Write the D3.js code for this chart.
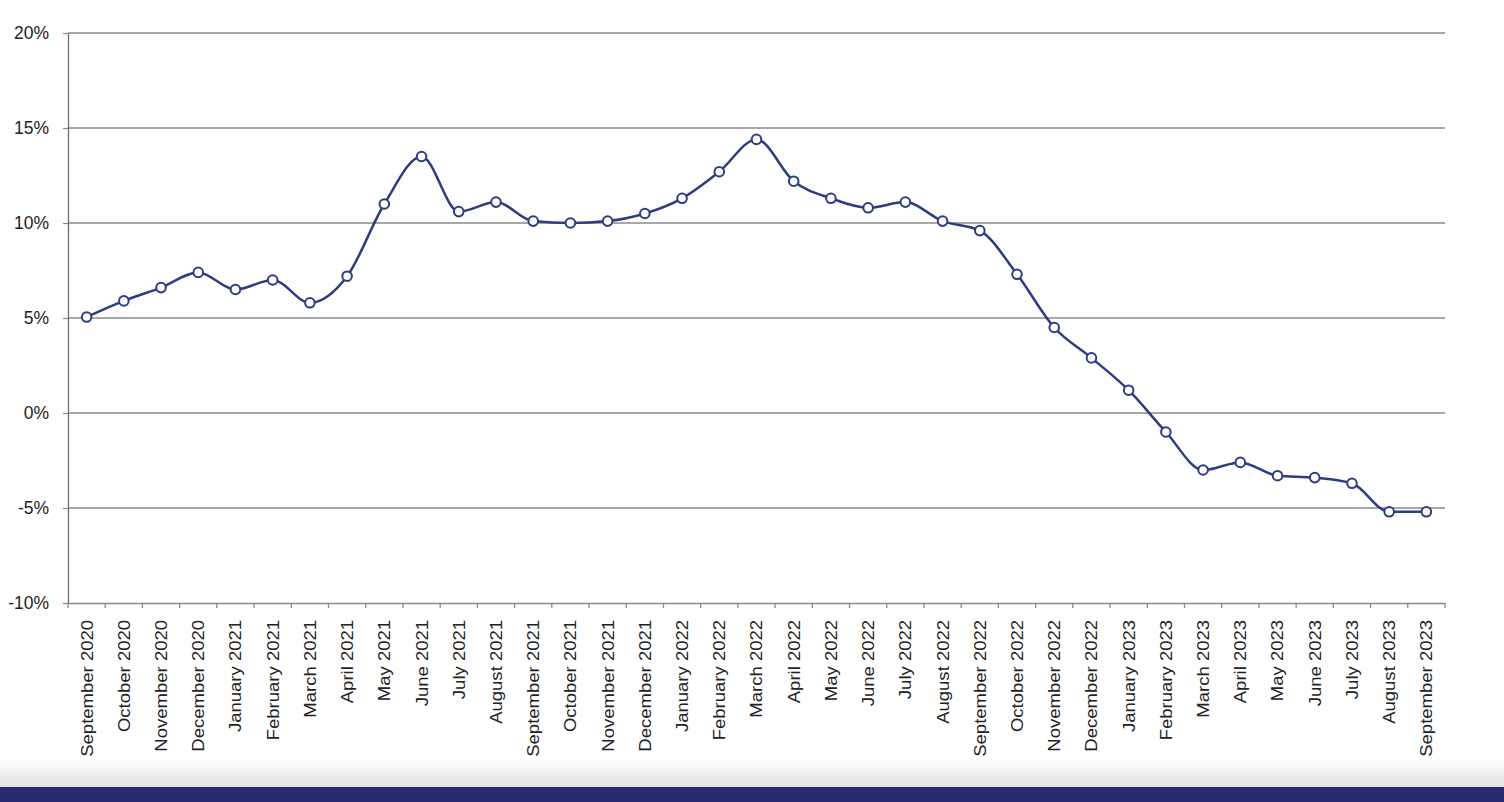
<!DOCTYPE html>
<html><head><meta charset="utf-8">
<script src="https://cdn.jsdelivr.net/npm/d3@7"></script>
<style>
html,body{margin:0;padding:0;background:#fff;}
svg{display:block;}
</style></head>
<body>
<svg id="chart" width="1504" height="802"></svg>
<script>
const months = ["September 2020","October 2020","November 2020","December 2020","January 2021","February 2021","March 2021","April 2021","May 2021","June 2021","July 2021","August 2021","September 2021","October 2021","November 2021","December 2021","January 2022","February 2022","March 2022","April 2022","May 2022","June 2022","July 2022","August 2022","September 2022","October 2022","November 2022","December 2022","January 2023","February 2023","March 2023","April 2023","May 2023","June 2023","July 2023","August 2023","September 2023"];
const values = [5.05,5.9,6.6,7.4,6.5,7.0,5.8,7.2,11.0,13.5,10.6,11.1,10.1,10.0,10.1,10.5,11.3,12.7,14.4,12.2,11.3,10.8,11.1,10.1,9.6,7.3,4.5,2.9,1.2,-1.0,-3.0,-2.6,-3.3,-3.4,-3.7,-5.2,-5.2];
const yTicks = [-10,-5,0,5,10,15,20];

(function(){
const svg = d3.select("#chart");
const W = 1504, H = 802;
const mLeft = 68, mRight = 1445, mTop = 33, mBottom = 603;

const defs = svg.append("defs");
const grad = defs.append("linearGradient").attr("id","fade").attr("x1",0).attr("y1",0).attr("x2",0).attr("y2",1);
grad.append("stop").attr("offset","0%").attr("stop-color","#ffffff");
grad.append("stop").attr("offset","100%").attr("stop-color","#e2e2e0");
svg.append("rect").attr("x",0).attr("y",758).attr("width",W).attr("height",29).attr("fill","url(#fade)");
svg.append("rect").attr("x",0).attr("y",787).attr("width",W).attr("height",15).attr("fill","#292a6f");

const x = d3.scaleBand().domain(months).range([mLeft,mRight]).padding(0);
const y = d3.scaleLinear().domain([-10,20]).range([mBottom,mTop]);

svg.append("g").selectAll("line").data(yTicks.filter(d=>d>-10)).join("line")
  .attr("x1",mLeft).attr("x2",mRight).attr("y1",d=>y(d)).attr("y2",d=>y(d))
  .attr("stroke","#8a8a8a").attr("stroke-width",1.3);

const yAxis = svg.append("g").attr("transform",`translate(${mLeft},0)`)
  .call(d3.axisLeft(y).tickValues(yTicks).tickFormat(d=>d+"%").tickSize(5).tickSizeOuter(0));
yAxis.select(".domain").attr("stroke","#6e6e6e").attr("stroke-width",1.3);
yAxis.selectAll(".tick line").attr("stroke","#8a8a8a").attr("stroke-width",1.3);
yAxis.selectAll("text").attr("font-family","Liberation Sans, Arial, sans-serif").attr("font-size",17.5).attr("fill","#222").attr("x",-19).attr("dy","0.3em");

const xAxis = svg.append("g").attr("transform",`translate(0,${mBottom})`)
  .call(d3.axisBottom(x).tickSize(0).tickSizeOuter(0));
xAxis.select(".domain").attr("stroke","#8a8a8a").attr("stroke-width",1.3);
const bounds = months.map(m=>x(m)).concat([mRight]);
svg.append("g").selectAll("line").data(bounds).join("line")
  .attr("x1",d=>d).attr("x2",d=>d).attr("y1",mBottom).attr("y2",mBottom+5)
  .attr("stroke","#8a8a8a").attr("stroke-width",1.3);
xAxis.selectAll("text")
  .attr("font-family","Liberation Sans, Arial, sans-serif").attr("font-size",17).attr("fill","#222")
  .attr("transform","rotate(-90) scale(1.09,1)").attr("text-anchor","end")
  .attr("x",-15.5).attr("y",0).attr("dy","0.35em");

const line = d3.line().x((d,i)=>x(months[i])+x.bandwidth()/2).y(d=>y(d)).curve(d3.curveMonotoneX);
svg.append("path").datum(values).attr("d",line).attr("fill","none").attr("stroke","#2c3d80").attr("stroke-width",2.5);

svg.append("g").selectAll("circle").data(values).join("circle")
  .attr("cx",(d,i)=>x(months[i])+x.bandwidth()/2).attr("cy",d=>y(d)).attr("r",4.8)
  .attr("fill","#fff").attr("stroke","#2c3d80").attr("stroke-width",2);
})();
</script>
</body></html>
